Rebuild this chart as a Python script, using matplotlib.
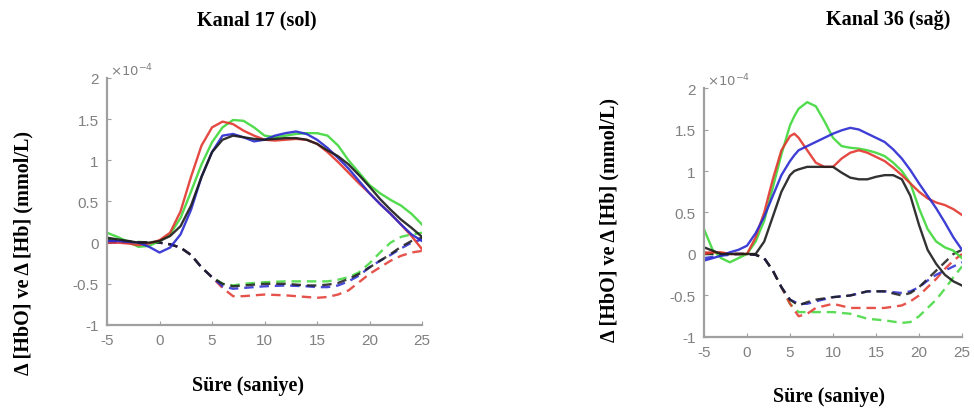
"""
plot.py - HbO / Hb response curves for channel 17 (left) and channel 36 (right).
"""
import matplotlib
matplotlib.use("Agg")
import matplotlib.pyplot as plt

# values in units of 1e-4 mmol/L
# ---- Kanal 17 (sol) ----
t17_hbo = [-5, -4, -3, -2, -1, 0, 1, 2, 3, 4, 5, 6, 7, 8, 9, 10, 11, 12, 13, 14, 15, 16, 17, 18, 19, 20, 21, 22, 23, 24, 25]
k17_red = [0.0, 0.0, -0.01, -0.03, -0.01, 0.03, 0.12, 0.38, 0.8, 1.18, 1.4, 1.47, 1.44, 1.36, 1.3, 1.25, 1.24, 1.25, 1.26, 1.25, 1.2, 1.1, 0.98, 0.85, 0.72, 0.6, 0.47, 0.35, 0.22, 0.08, -0.08]
k17_green = [0.12, 0.07, 0.01, -0.05, -0.04, 0.02, 0.1, 0.3, 0.62, 0.95, 1.22, 1.4, 1.49, 1.48, 1.4, 1.3, 1.28, 1.3, 1.32, 1.33, 1.33, 1.3, 1.18, 1.0, 0.85, 0.7, 0.6, 0.52, 0.45, 0.35, 0.22]
k17_blue = [0.02, 0.02, 0.01, 0.0, -0.05, -0.12, -0.06, 0.1, 0.4, 0.8, 1.1, 1.3, 1.32, 1.28, 1.23, 1.25, 1.3, 1.33, 1.35, 1.32, 1.25, 1.15, 1.03, 0.9, 0.75, 0.6, 0.47, 0.35, 0.22, 0.1, 0.02]
k17_black = [0.06, 0.04, 0.02, 0.0, 0.0, 0.02, 0.08, 0.2, 0.45, 0.8, 1.1, 1.25, 1.3, 1.28, 1.26, 1.25, 1.26, 1.27, 1.27, 1.25, 1.2, 1.12, 1.05, 0.95, 0.82, 0.68, 0.53, 0.4, 0.28, 0.18, 0.07]

t17_hb = [-5, -3, -1, 0, 1, 2, 3, 4, 5, 6, 7, 8, 10, 12, 14, 15, 16, 17, 18, 19, 20, 21, 22, 23, 24, 25]
k17_red_d = [0.02, 0.01, 0.0, 0.0, -0.02, -0.06, -0.15, -0.3, -0.42, -0.55, -0.65, -0.65, -0.63, -0.64, -0.66, -0.67, -0.66, -0.63, -0.58, -0.48, -0.38, -0.3, -0.22, -0.16, -0.12, -0.1]
k17_green_d = [0.05, 0.02, 0.0, 0.0, -0.02, -0.06, -0.15, -0.3, -0.42, -0.5, -0.52, -0.5, -0.48, -0.47, -0.47, -0.47, -0.47, -0.45, -0.42, -0.36, -0.25, -0.12, 0.0, 0.07, 0.1, 0.12]
k17_blue_d = [0.0, 0.0, 0.0, 0.0, -0.02, -0.06, -0.15, -0.3, -0.42, -0.53, -0.56, -0.55, -0.53, -0.52, -0.53, -0.54, -0.54, -0.52, -0.47, -0.4, -0.3, -0.22, -0.15, -0.07, 0.0, 0.04]
k17_black_d = [0.03, 0.01, 0.0, 0.0, -0.02, -0.06, -0.15, -0.3, -0.42, -0.5, -0.53, -0.52, -0.5, -0.5, -0.52, -0.52, -0.51, -0.49, -0.44, -0.38, -0.3, -0.22, -0.14, -0.05, 0.02, 0.06]

# ---- Kanal 36 (sag) ----
t36_hbo = [-5, -4, -3, -2, -1, 0, 1, 2, 3, 4, 5, 5.5, 6, 7, 8, 9, 10, 11, 12, 13, 14, 15, 16, 17, 18, 19, 20, 21, 22, 23, 24, 25]
k36_red = [0.0, 0.02, 0.02, 0.0, 0.0, 0.0, 0.2, 0.5, 0.9, 1.25, 1.42, 1.45, 1.4, 1.25, 1.1, 1.05, 1.05, 1.15, 1.22, 1.25, 1.22, 1.17, 1.12, 1.04, 0.95, 0.85, 0.75, 0.67, 0.62, 0.59, 0.54, 0.47]
k36_green = [0.3, 0.05, -0.05, -0.1, -0.05, 0.0, 0.15, 0.4, 0.8, 1.2, 1.55, 1.66, 1.75, 1.83, 1.78, 1.6, 1.4, 1.3, 1.28, 1.27, 1.25, 1.22, 1.18, 1.1, 1.0, 0.85, 0.55, 0.3, 0.15, 0.08, 0.04, -0.05]
k36_blue = [-0.08, -0.05, -0.02, 0.02, 0.05, 0.1, 0.25, 0.45, 0.7, 0.95, 1.12, 1.19, 1.25, 1.3, 1.35, 1.4, 1.45, 1.49, 1.52, 1.5, 1.45, 1.4, 1.35, 1.26, 1.15, 1.01, 0.85, 0.7, 0.55, 0.38, 0.2, 0.05]
k36_black = [0.08, 0.04, 0.0, 0.0, 0.0, 0.0, 0.0, 0.15, 0.45, 0.75, 0.95, 1.0, 1.02, 1.05, 1.05, 1.05, 1.05, 0.98, 0.92, 0.9, 0.9, 0.93, 0.95, 0.95, 0.9, 0.7, 0.35, 0.05, -0.12, -0.25, -0.33, -0.38]

t36_hb = [-5, -3, -1, 0, 1, 2, 3, 4, 5, 6, 7, 8, 10, 12, 14, 16, 18, 19, 20, 21, 22, 23, 24, 25]
k36_red_d = [0.02, 0.01, 0.0, 0.0, -0.01, -0.05, -0.2, -0.4, -0.6, -0.75, -0.72, -0.65, -0.6, -0.65, -0.65, -0.65, -0.62, -0.57, -0.5, -0.4, -0.3, -0.18, -0.08, 0.0]
k36_green_d = [0.0, 0.0, 0.0, 0.0, -0.01, -0.05, -0.2, -0.4, -0.6, -0.7, -0.7, -0.7, -0.7, -0.72, -0.78, -0.8, -0.83, -0.82, -0.75, -0.65, -0.55, -0.42, -0.28, -0.15]
k36_blue_d = [-0.05, -0.02, 0.0, 0.0, -0.01, -0.05, -0.2, -0.4, -0.55, -0.6, -0.6, -0.57, -0.52, -0.5, -0.45, -0.45, -0.47, -0.45, -0.4, -0.32, -0.25, -0.2, -0.15, -0.1]
k36_black_d = [0.0, 0.0, 0.0, 0.0, -0.01, -0.05, -0.2, -0.4, -0.55, -0.62, -0.58, -0.55, -0.52, -0.5, -0.45, -0.45, -0.5, -0.47, -0.4, -0.3, -0.2, -0.1, 0.0, 0.05]

xticks = [-5, 0, 5, 10, 15, 20, 25]
yticks = [-1, -0.5, 0, 0.5, 1, 1.5, 2]
ytick_labels = ["-1", "-0.5", "0", "0.5", "1", "1.5", "2"]

COLORS = {"red": "#e2352d", "green": "#3ed83a", "blue": "#2a2ad2", "black": "#1c1c1c"}
GRAY = "#808080"
SERIF = "Liberation Serif"

fig = plt.figure(figsize=(9.74, 4.14), dpi=100)


def panel(rect, t_hbo, hbo, t_hb, hb):
    ax = fig.add_axes(rect)
    for name in ["green", "red", "blue", "black"]:
        ax.plot(t_hb, hb[name], color=COLORS[name], lw=1.7, ls=(0, (4, 2.5)), alpha=0.85)
    for name in ["green", "red", "blue", "black"]:
        ax.plot(t_hbo, hbo[name], color=COLORS[name], lw=1.7, alpha=0.9)
    ax.set_xlim(-5, 25)
    ax.set_ylim(-1, 2)
    ax.set_xticks(xticks)
    ax.set_xticklabels([str(x) for x in xticks])
    ax.set_yticks(yticks)
    ax.set_yticklabels(ytick_labels)
    for s in ["top", "right"]:
        ax.spines[s].set_visible(False)
    for s in ["left", "bottom"]:
        ax.spines[s].set_color("#a0a0a0")
        ax.spines[s].set_linewidth(1.6)
    ax.tick_params(direction="in", length=3, color="#a0a0a0", labelcolor=GRAY,
                   labelsize=11, pad=6)
    for lab in ax.get_xticklabels() + ax.get_yticklabels():
        lab.set_fontfamily("Liberation Sans")
    ax.text(0.01, 1.0, r"$\times 10^{-4}$", transform=ax.transAxes, ha="left",
            va="bottom", color=GRAY, fontsize=9.5)
    return ax


panel([0.1099, 0.2126, 0.3234, 0.5966], t17_hbo,
      {"red": k17_red, "green": k17_green, "blue": k17_blue, "black": k17_black},
      t17_hb,
      {"red": k17_red_d, "green": k17_green_d, "blue": k17_blue_d, "black": k17_black_d})
panel([0.7228, 0.1836, 0.2649, 0.6014], t36_hbo,
      {"red": k36_red, "green": k36_green, "blue": k36_blue, "black": k36_black},
      t36_hb,
      {"red": k36_red_d, "green": k36_green_d, "blue": k36_blue_d, "black": k36_black_d})

# titles and axis labels placed in figure pixels
W, H = 974, 414
def ftext(x, y, s, **kw):
    fig.text(x / W, 1 - y / H, s, family=SERIF, fontweight="bold", ha="center",
             va="center", **kw)

ftext(257, 20, "Kanal 17 (sol)", fontsize=14.5)
ftext(888, 20, "Kanal 36 (sağ)", fontsize=14.5)
ftext(248, 386, "Süre (saniye)", fontsize=14.5)
ftext(829, 397, "Süre (saniye)", fontsize=14.5)
ftext(23, 253, "Δ [HbO] ve Δ [Hb] (mmol/L)", fontsize=14.5, rotation=90)
ftext(609, 220, "Δ [HbO] ve Δ [Hb] (mmol/L)", fontsize=14.5, rotation=90)

fig.savefig("out.png", dpi=100)
